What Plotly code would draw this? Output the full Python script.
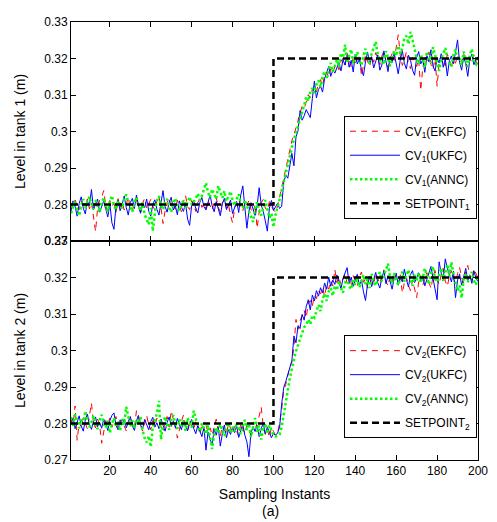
import plotly.graph_objects as go

samples = list(range(1, 201))

setpoint_x = [1, 100, 200]
setpoint1_y = [0.28, 0.32, 0.32]
setpoint2_y = [0.28, 0.32, 0.32]

t1_ekfc = [
    0.2805, 0.2790, 0.2812, 0.2798, 0.2786, 0.2809, 0.2801, 0.2793, 0.2815, 0.2788,
    0.2806, 0.2760, 0.2726, 0.2790, 0.2812, 0.2820, 0.2838, 0.2797, 0.2782, 0.2811,
    0.2795, 0.2803, 0.2779, 0.2816, 0.2792, 0.2808, 0.2785, 0.2799, 0.2821, 0.2790,
    0.2783, 0.2806, 0.2812, 0.2794, 0.2778, 0.2803, 0.2817, 0.2789, 0.2800, 0.2814,
    0.2796, 0.2785, 0.2809, 0.2823, 0.2791, 0.2748, 0.2782, 0.2805, 0.2818, 0.2793,
    0.2801, 0.2787, 0.2812, 0.2796, 0.2780, 0.2808, 0.2825, 0.2794, 0.2786, 0.2811,
    0.2799, 0.2781, 0.2806, 0.2815, 0.2792, 0.2803, 0.2788, 0.2810, 0.2797, 0.2784,
    0.2807, 0.2819, 0.2793, 0.2779, 0.2805, 0.2812, 0.2790, 0.2801, 0.2770, 0.2750,
    0.2788, 0.2809, 0.2815, 0.2794, 0.2782, 0.2806, 0.2798, 0.2811, 0.2787, 0.2776,
    0.2800, 0.2735, 0.2779, 0.2805, 0.2814, 0.2790, 0.2783, 0.2808, 0.2796, 0.2785,
    0.2779, 0.2796, 0.2820, 0.2845, 0.2870, 0.2902, 0.2921, 0.2946, 0.2975, 0.2991,
    0.3008, 0.3030, 0.3052, 0.3068, 0.3062, 0.3084, 0.3101, 0.3093, 0.3115, 0.3124,
    0.3109, 0.3131, 0.3142, 0.3126, 0.3155, 0.3163, 0.3148, 0.3171, 0.3160, 0.3178,
    0.3185, 0.3169, 0.3192, 0.3201, 0.3182, 0.3215, 0.3194, 0.3176, 0.3203, 0.3188,
    0.3197, 0.3209, 0.3152, 0.3185, 0.3211, 0.3193, 0.3178, 0.3205, 0.3190, 0.3216,
    0.3198, 0.3183, 0.3207, 0.3221, 0.3189, 0.3176, 0.3200, 0.3213, 0.3195, 0.3236,
    0.3265, 0.3208, 0.3181, 0.3196, 0.3219, 0.3187, 0.3172, 0.3203, 0.3190, 0.3178,
    0.3199, 0.3112, 0.3175, 0.3206, 0.3193, 0.3218, 0.3184, 0.3170, 0.3201, 0.3124,
    0.3189, 0.3207, 0.3194, 0.3180, 0.3212, 0.3198, 0.3175, 0.3203, 0.3187, 0.3209,
    0.3195, 0.3181, 0.3214, 0.3190, 0.3176, 0.3202, 0.3188, 0.3210, 0.3193, 0.3183,
]

t1_ukfc = [
    0.2782, 0.2810, 0.2795, 0.2768, 0.2803, 0.2821, 0.2790, 0.2774, 0.2808, 0.2797,
    0.2841, 0.2786, 0.2801, 0.2815, 0.2779, 0.2796, 0.2810, 0.2788, 0.2766, 0.2802,
    0.2750, 0.2732, 0.2795, 0.2811, 0.2783, 0.2799, 0.2823, 0.2792, 0.2771, 0.2805,
    0.2817, 0.2789, 0.2826, 0.2798, 0.2776, 0.2803, 0.2791, 0.2815, 0.2782, 0.2768,
    0.2800, 0.2813, 0.2787, 0.2771, 0.2809, 0.2838, 0.2794, 0.2779, 0.2806, 0.2820,
    0.2785, 0.2797, 0.2772, 0.2810, 0.2793, 0.2781, 0.2805, 0.2760, 0.2743, 0.2798,
    0.2812, 0.2789, 0.2777, 0.2806, 0.2819, 0.2794, 0.2785, 0.2803, 0.2826, 0.2797,
    0.2780, 0.2808, 0.2791, 0.2769, 0.2802, 0.2817, 0.2786, 0.2799, 0.2812, 0.2775,
    0.2793, 0.2808, 0.2778, 0.2826, 0.2851, 0.2790, 0.2735, 0.2782, 0.2805, 0.2788,
    0.2770, 0.2796, 0.2846, 0.2799, 0.2781, 0.2755, 0.2727, 0.2790, 0.2811, 0.2784,
    0.2792, 0.2803, 0.2789, 0.2795, 0.2860, 0.2881, 0.2872, 0.2908, 0.2940, 0.2906,
    0.2985, 0.3002, 0.3057, 0.3031, 0.3043, 0.3060, 0.3048, 0.3038, 0.3090, 0.3138,
    0.3092, 0.3115, 0.3124, 0.3108, 0.3145, 0.3162, 0.3178, 0.3151, 0.3168, 0.3160,
    0.3175, 0.3189, 0.3166, 0.3197, 0.3182, 0.3208, 0.3176, 0.3195, 0.3163, 0.3212,
    0.3185, 0.3199, 0.3170, 0.3153, 0.3191, 0.3218, 0.3187, 0.3205, 0.3174, 0.3196,
    0.3210, 0.3168, 0.3182, 0.3221, 0.3193, 0.3164, 0.3205, 0.3189, 0.3214, 0.3180,
    0.3158, 0.3196, 0.3222, 0.3187, 0.3171, 0.3209, 0.3195, 0.3168, 0.3154, 0.3203,
    0.3219, 0.3185, 0.3197, 0.3162, 0.3208, 0.3191, 0.3224, 0.3179, 0.3166, 0.3201,
    0.3188, 0.3213, 0.3176, 0.3199, 0.3152, 0.3194, 0.3207, 0.3185, 0.3215, 0.3251,
    0.3190, 0.3168, 0.3204, 0.3186, 0.3151, 0.3198, 0.3212, 0.3183, 0.3196, 0.3205,
]

t1_annc = [
    0.2776, 0.2792, 0.2810, 0.2783, 0.2769, 0.2798, 0.2815, 0.2790, 0.2805, 0.2822,
    0.2801, 0.2787, 0.2812, 0.2794, 0.2779, 0.2806, 0.2818, 0.2793, 0.2781, 0.2809,
    0.2824, 0.2797, 0.2785, 0.2811, 0.2800, 0.2789, 0.2815, 0.2827, 0.2804, 0.2792,
    0.2780, 0.2808, 0.2819, 0.2796, 0.2783, 0.2805, 0.2772, 0.2760, 0.2745, 0.2790,
    0.2727, 0.2775, 0.2810, 0.2823, 0.2798, 0.2786, 0.2807, 0.2815, 0.2791, 0.2779,
    0.2803, 0.2817, 0.2795, 0.2784, 0.2800, 0.2812, 0.2790, 0.2805, 0.2821, 0.2799,
    0.2808, 0.2816, 0.2830, 0.2812, 0.2824, 0.2840, 0.2859, 0.2833, 0.2819, 0.2842,
    0.2826, 0.2815, 0.2851, 0.2832, 0.2818, 0.2837, 0.2809, 0.2822, 0.2836, 0.2811,
    0.2797, 0.2815, 0.2828, 0.2804, 0.2790, 0.2812, 0.2795, 0.2781, 0.2766, 0.2752,
    0.2789, 0.2806, 0.2783, 0.2770, 0.2795, 0.2812, 0.2788, 0.2763, 0.2775, 0.2738,
    0.2772, 0.2790, 0.2814, 0.2838, 0.2862, 0.2885, 0.2910, 0.2932, 0.2958, 0.2979,
    0.2996, 0.3014, 0.3035, 0.3050, 0.3072, 0.3095, 0.3083, 0.3108, 0.3119, 0.3105,
    0.3128, 0.3140, 0.3122, 0.3151, 0.3165, 0.3147, 0.3170, 0.3188, 0.3164, 0.3182,
    0.3197, 0.3178, 0.3215, 0.3202, 0.3238, 0.3190, 0.3207, 0.3225, 0.3186, 0.3203,
    0.3218, 0.3195, 0.3181, 0.3209, 0.3227, 0.3199, 0.3186, 0.3214, 0.3230, 0.3246,
    0.3211, 0.3192, 0.3205, 0.3184, 0.3220, 0.3203, 0.3179, 0.3198, 0.3221, 0.3207,
    0.3235, 0.3213, 0.3228, 0.3256, 0.3262, 0.3240, 0.3273, 0.3251, 0.3224, 0.3201,
    0.3185, 0.3210, 0.3196, 0.3175, 0.3219, 0.3204, 0.3188, 0.3231, 0.3209, 0.3180,
    0.3166, 0.3197, 0.3215, 0.3229, 0.3202, 0.3189, 0.3178, 0.3211, 0.3224, 0.3193,
    0.3205, 0.3182, 0.3219, 0.3197, 0.3178, 0.3210, 0.3226, 0.3190, 0.3184, 0.3201,
]

t2_ekfc = [
    0.2812, 0.2795, 0.2848, 0.2754, 0.2803, 0.2790, 0.2816, 0.2798, 0.2785, 0.2821,
    0.2856, 0.2800, 0.2788, 0.2812, 0.2795, 0.2746, 0.2783, 0.2808, 0.2797, 0.2815,
    0.2790, 0.2804, 0.2819, 0.2786, 0.2801, 0.2812, 0.2793, 0.2780, 0.2806, 0.2818,
    0.2799, 0.2787, 0.2835, 0.2810, 0.2794, 0.2779, 0.2805, 0.2822, 0.2796, 0.2783,
    0.2808, 0.2792, 0.2815, 0.2801, 0.2786, 0.2777, 0.2803, 0.2819, 0.2790, 0.2835,
    0.2812, 0.2798, 0.2760, 0.2787, 0.2806, 0.2823, 0.2795, 0.2781, 0.2809, 0.2793,
    0.2784, 0.2806, 0.2792, 0.2770, 0.2799, 0.2781, 0.2796, 0.2775, 0.2788, 0.2768,
    0.2790, 0.2812, 0.2779, 0.2765, 0.2794, 0.2783, 0.2770, 0.2801, 0.2786, 0.2773,
    0.2792, 0.2778, 0.2765, 0.2800, 0.2785, 0.2772, 0.2795, 0.2781, 0.2768, 0.2790,
    0.2777, 0.2805, 0.2820, 0.2845, 0.2792, 0.2770, 0.2784, 0.2762, 0.2790, 0.2778,
    0.2768, 0.2775, 0.2801, 0.2838, 0.2890, 0.2907, 0.2930, 0.2955, 0.2968, 0.3010,
    0.3085, 0.3058, 0.3082, 0.3096, 0.3110, 0.3089, 0.3128, 0.3137, 0.3121, 0.3150,
    0.3142, 0.3163, 0.3155, 0.3171, 0.3148, 0.3180, 0.3168, 0.3191, 0.3177, 0.3222,
    0.3186, 0.3202, 0.3179, 0.3196, 0.3210, 0.3184, 0.3199, 0.3172, 0.3205, 0.3190,
    0.3178, 0.3201, 0.3215, 0.3187, 0.3196, 0.3171, 0.3208, 0.3192, 0.3180, 0.3212,
    0.3199, 0.3183, 0.3206, 0.3221, 0.3190, 0.3177, 0.3203, 0.3188, 0.3214, 0.3196,
    0.3182, 0.3209, 0.3158, 0.3185, 0.3201, 0.3178, 0.3164, 0.3193, 0.3172, 0.3145,
    0.3188, 0.3205, 0.3179, 0.3196, 0.3213, 0.3187, 0.3170, 0.3202, 0.3219, 0.3194,
    0.3181, 0.3208, 0.3225, 0.3190, 0.3176, 0.3203, 0.3219, 0.3197, 0.3184, 0.3211,
    0.3228, 0.3199, 0.3185, 0.3217, 0.3233, 0.3206, 0.3191, 0.3224, 0.3209, 0.3198,
]

t2_ukfc = [
    0.2798, 0.2815, 0.2786, 0.2805, 0.2821, 0.2793, 0.2779, 0.2810, 0.2826, 0.2797,
    0.2784, 0.2806, 0.2818, 0.2791, 0.2803, 0.2787, 0.2812, 0.2799, 0.2781, 0.2808,
    0.2822, 0.2829, 0.2795, 0.2783, 0.2810, 0.2797, 0.2812, 0.2788, 0.2804, 0.2819,
    0.2793, 0.2781, 0.2807, 0.2822, 0.2796, 0.2785, 0.2811, 0.2798, 0.2783, 0.2805,
    0.2817, 0.2790, 0.2802, 0.2786, 0.2812, 0.2795, 0.2779, 0.2803, 0.2818, 0.2792,
    0.2806, 0.2789, 0.2814, 0.2797, 0.2783, 0.2808, 0.2794, 0.2780, 0.2799, 0.2811,
    0.2787, 0.2772, 0.2795, 0.2781, 0.2764, 0.2790, 0.2727, 0.2776, 0.2758, 0.2740,
    0.2785, 0.2768, 0.2791, 0.2738, 0.2772, 0.2796, 0.2761, 0.2783, 0.2770, 0.2789,
    0.2775, 0.2794, 0.2762, 0.2781, 0.2799, 0.2768, 0.2750, 0.2709, 0.2773, 0.2792,
    0.2778, 0.2795, 0.2764, 0.2786, 0.2801, 0.2772, 0.2790, 0.2776, 0.2761, 0.2773,
    0.2768, 0.2774, 0.2790, 0.2853, 0.2898, 0.2915, 0.2935, 0.2950, 0.2972, 0.3040,
    0.3021, 0.3068, 0.3060, 0.3099, 0.3083, 0.3120, 0.3139, 0.3111, 0.3152, 0.3136,
    0.3164, 0.3149, 0.3172, 0.3158, 0.3185, 0.3168, 0.3201, 0.3176, 0.3193, 0.3181,
    0.3207, 0.3189, 0.3168, 0.3198, 0.3215, 0.3227, 0.3183, 0.3201, 0.3176, 0.3195,
    0.3209, 0.3178, 0.3194, 0.3161, 0.3137, 0.3182, 0.3203, 0.3175, 0.3192, 0.3214,
    0.3186, 0.3171, 0.3199, 0.3218, 0.3183, 0.3205, 0.3190, 0.3168, 0.3197, 0.3212,
    0.3179, 0.3201, 0.3188, 0.3223, 0.3195, 0.3174, 0.3208, 0.3219, 0.3186, 0.3200,
    0.3213, 0.3189, 0.3204, 0.3177, 0.3195, 0.3216, 0.3230, 0.3198, 0.3165, 0.3139,
    0.3243, 0.3212, 0.3195, 0.3251, 0.3226, 0.3204, 0.3188, 0.3217, 0.3145, 0.3193,
    0.3210, 0.3179, 0.3201, 0.3225, 0.3192, 0.3206, 0.3184, 0.3218, 0.3197, 0.3189,
]

t2_annc = [
    0.2818, 0.2792, 0.2825, 0.2806, 0.2787, 0.2811, 0.2798, 0.2834, 0.2815, 0.2790,
    0.2803, 0.2821, 0.2796, 0.2785, 0.2809, 0.2824, 0.2800, 0.2788, 0.2807, 0.2774,
    0.2799, 0.2815, 0.2791, 0.2806, 0.2780, 0.2812, 0.2797, 0.2846, 0.2820, 0.2793,
    0.2808, 0.2786, 0.2811, 0.2799, 0.2817, 0.2782, 0.2760, 0.2748, 0.2766, 0.2736,
    0.2790, 0.2813, 0.2828, 0.2862, 0.2756, 0.2801, 0.2818, 0.2795, 0.2783, 0.2809,
    0.2823, 0.2798, 0.2786, 0.2811, 0.2794, 0.2807, 0.2780, 0.2815, 0.2801, 0.2789,
    0.2835, 0.2812, 0.2793, 0.2778, 0.2800, 0.2786, 0.2771, 0.2795, 0.2762, 0.2730,
    0.2768, 0.2790, 0.2775, 0.2797, 0.2781, 0.2766, 0.2789, 0.2802, 0.2774, 0.2791,
    0.2779, 0.2803, 0.2786, 0.2771, 0.2795, 0.2810, 0.2782, 0.2799, 0.2763, 0.2787,
    0.2815, 0.2777, 0.2794, 0.2756, 0.2788, 0.2801, 0.2772, 0.2795, 0.2779, 0.2768,
    0.2764, 0.2766, 0.2770, 0.2790, 0.2825, 0.2860, 0.2895, 0.2924, 0.2950, 0.2975,
    0.2998, 0.3015, 0.3031, 0.3052, 0.3064, 0.3070, 0.3085, 0.3072, 0.3096, 0.3090,
    0.3110, 0.3125, 0.3108, 0.3140, 0.3155, 0.3136, 0.3162, 0.3171, 0.3150, 0.3178,
    0.3165, 0.3190, 0.3172, 0.3158, 0.3185, 0.3199, 0.3176, 0.3168, 0.3192, 0.3180,
    0.3201, 0.3174, 0.3189, 0.3207, 0.3182, 0.3195, 0.3171, 0.3210, 0.3186, 0.3178,
    0.3196, 0.3215, 0.3190, 0.3204, 0.3222, 0.3238, 0.3201, 0.3185, 0.3212, 0.3194,
    0.3179, 0.3198, 0.3216, 0.3189, 0.3203, 0.3221, 0.3194, 0.3177, 0.3208, 0.3190,
    0.3213, 0.3186, 0.3199, 0.3225, 0.3204, 0.3181, 0.3214, 0.3230, 0.3196, 0.3188,
    0.3207, 0.3226, 0.3191, 0.3215, 0.3236, 0.3203, 0.3242, 0.3211, 0.3184, 0.3163,
    0.3178, 0.3144, 0.3196, 0.3209, 0.3187, 0.3201, 0.3215, 0.3192, 0.3180, 0.3204,
]

x_ticks = [20, 40, 60, 80, 100, 120, 140, 160, 180, 200]
y_ticks = [0.27, 0.28, 0.29, 0.30, 0.31, 0.32, 0.33]
y_ticktext = ["0.27", "0.28", "0.29", "0.3", "0.31", "0.32", "0.33"]

FONT = "Liberation Sans, Arial, Helvetica, sans-serif"

styles = {
    "ekfc": dict(color="#FF0000", width=1, dash="6px,5px"),
    "ukfc": dict(color="#0000FF", width=1, dash="solid"),
    "annc": dict(color="#00FF00", width=2.5, dash="2.5px,2.5px"),
    "sp": dict(color="#000000", width=2.5, dash="7px,4px"),
}

fig = go.Figure()

panels = [
    ("1", t1_ekfc, t1_ukfc, t1_annc, setpoint1_y, "x", "y", "legend"),
    ("2", t2_ekfc, t2_ukfc, t2_annc, setpoint2_y, "x2", "y2", "legend2"),
]
for idx, ekfc, ukfc, annc, sp, xa, ya, lg in panels:
    fig.add_trace(go.Scatter(x=samples, y=ekfc, mode="lines", line=styles["ekfc"],
                             name=f"CV<sub>{idx}</sub>(EKFC)", xaxis=xa, yaxis=ya,
                             legend=lg, legendgroup=f"e{idx}"))
    fig.add_trace(go.Scatter(x=samples, y=ukfc, mode="lines", line=styles["ukfc"],
                             name=f"CV<sub>{idx}</sub>(UKFC)", xaxis=xa, yaxis=ya,
                             legend=lg, legendgroup=f"u{idx}"))
    fig.add_trace(go.Scatter(x=samples, y=annc, mode="lines", line=styles["annc"],
                             name=f"CV<sub>{idx}</sub>(ANNC)", xaxis=xa, yaxis=ya,
                             legend=lg, legendgroup=f"a{idx}"))
    fig.add_trace(go.Scatter(x=setpoint_x, y=sp, mode="lines", line=styles["sp"],
                             line_shape="hv",
                             name=f"SETPOINT<sub>{idx}</sub>", xaxis=xa, yaxis=ya,
                             legend=lg, legendgroup=f"s{idx}"))

axis_common = dict(
    showline=True, linecolor="black", linewidth=1, mirror="ticks",
    ticks="inside", ticklen=5, tickcolor="black", showgrid=False, zeroline=False,
    tickfont=dict(family=FONT, size=12, color="black"),
)

legend_common = dict(
    xanchor="right", yanchor="top", bordercolor="black", borderwidth=1,
    bgcolor="white", font=dict(family=FONT, size=12, color="black"),
    tracegroupgap=5, itemwidth=50,
)

# The page body adds an 8px offset, so the figure is sized to fit the window.
fig.update_layout(
    width=489, height=514,
    margin=dict(l=63, r=19, t=7, b=62),
    paper_bgcolor="white", plot_bgcolor="white",
    font=dict(family=FONT, size=12, color="black"),
    xaxis=dict(axis_common, range=[1, 200], tickvals=x_ticks, showticklabels=False,
               anchor="y", matches="x2"),
    yaxis=dict(axis_common, range=[0.27, 0.33], tickvals=y_ticks, ticktext=y_ticktext,
               domain=[0.5, 1], anchor="x",
               title=dict(text="Level in tank 1 (m)", font=dict(family=FONT, size=14),
                          standoff=15)),
    xaxis2=dict(axis_common, range=[1, 200], tickvals=x_ticks, anchor="y2",
                title=dict(text="Sampling Instants", font=dict(family=FONT, size=14),
                           standoff=11)),
    yaxis2=dict(axis_common, range=[0.27, 0.33], tickvals=y_ticks, ticktext=y_ticktext,
                domain=[0, 0.5], anchor="x2",
                title=dict(text="Level in tank 2 (m)", font=dict(family=FONT, size=14),
                           standoff=15)),
    legend=dict(legend_common, x=0.9975, y=0.786),
    legend2=dict(legend_common, x=0.9975, y=0.285),
    annotations=[dict(text="(a)", x=0.49, y=-0.117, xref="paper", yref="paper",
                      xanchor="center", yanchor="middle", showarrow=False,
                      font=dict(family=FONT, size=14, color="black"))],
)

fig.write_html("out.html")
